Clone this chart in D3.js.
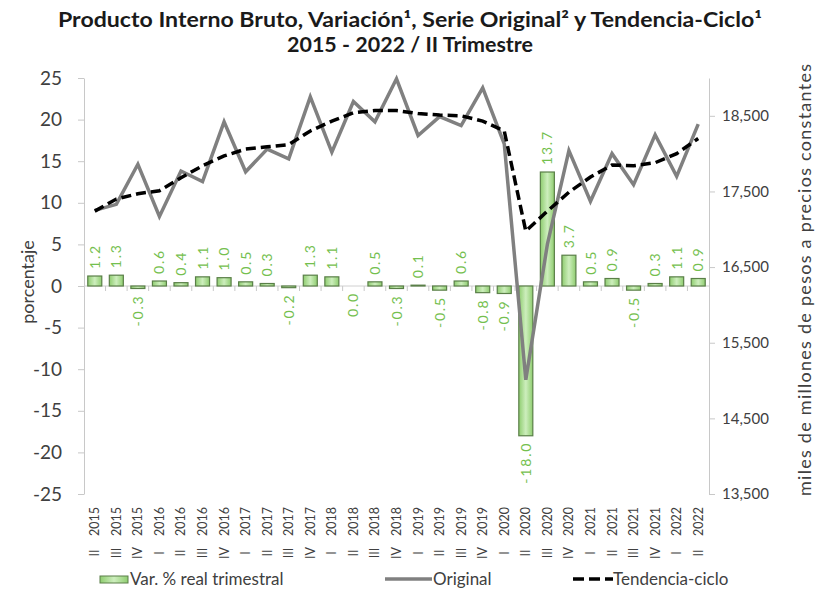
<!DOCTYPE html>
<html>
<head>
<meta charset="utf-8">
<script src="https://cdn.jsdelivr.net/npm/d3@7"></script>
<style>
  body { margin: 0; background: #fff; }
  svg { display: block; }
  text { font-family: Lato, "DejaVu Sans", sans-serif; }
</style>
</head>
<body>
<svg id="chart" width="819" height="594"></svg>
<script>
// quarters shown on the x axis
const periods = [
    "II 2015", "III 2015", "IV 2015",
    "I 2016", "II 2016", "III 2016", "IV 2016",
    "I 2017", "II 2017", "III 2017", "IV 2017",
    "I 2018", "II 2018", "III 2018", "IV 2018",
    "I 2019", "II 2019", "III 2019", "IV 2019",
    "I 2020", "II 2020", "III 2020", "IV 2020",
    "I 2021", "II 2021", "III 2021", "IV 2021",
    "I 2022", "II 2022"
];

// Var. % real trimestral (left axis, percent)
const varPct = [
    1.2, 1.3, -0.3,
    0.6, 0.4, 1.1, 1.0,
    0.5, 0.3, -0.2, 1.3,
    1.1, 0.0, 0.5, -0.3,
    0.1, -0.5, 0.6, -0.8,
    -0.9, -18.0, 13.7, 3.7,
    0.5, 0.9, -0.5, 0.3,
    1.1, 0.9
];

// Serie original (right axis, miles de millones de pesos)
const original = [
    17250, 17330, 17860,
    17170, 17770, 17630, 18420,
    17760, 18060, 17930, 18750,
    18020, 18690, 18420, 18990,
    18240, 18490, 18370, 18870,
    18130, 15010, 16800, 18040,
    17370, 18000, 17590, 18250,
    17700, 18390
];

// Tendencia-ciclo (right axis)
const trend = [
    17240, 17400, 17470,
    17510, 17680, 17840, 17970,
    18060, 18090, 18120, 18300,
    18430, 18540, 18570, 18570,
    18530, 18510, 18500, 18430,
    18300, 16975, 17240, 17490,
    17690, 17850, 17840, 17880,
    18000, 18200
];

const leftTicks = [25, 20, 15, 10, 5, 0, -5, -10, -15, -20, -25];
const rightTicks = [13500, 14500, 15500, 16500, 17500, 18500];

const svg = d3.select("#chart");
const plotLeft = 84, plotRight = 709, plotTop = 78, plotBottom = 494;
const labelColor = "#74c04e";
const textColor = "#404040";

const x = d3.scaleBand().domain(periods).range([plotLeft, plotRight]);
const bw = x.bandwidth();
const barW = bw * 0.65;
const yL = d3.scaleLinear().domain([-25, 25]).range([plotBottom, plotTop]);
const yR = d3.scaleLinear().domain([13500, 19000]).range([plotBottom, plotTop]);
const cx = p => x(p) + bw / 2;

// gradient for the bars
const grad = svg.append("defs").append("linearGradient")
    .attr("id", "barGrad")
    .attr("x1", "0%").attr("x2", "100%").attr("y1", "0%").attr("y2", "0%");
grad.append("stop").attr("offset", "0%").attr("stop-color", "#8fcd70");
grad.append("stop").attr("offset", "50%").attr("stop-color", "#cdeebd");
grad.append("stop").attr("offset", "100%").attr("stop-color", "#8fcd70");

// title
const title = svg.append("g").attr("font-weight", "bold").attr("fill", "#1a1a1a")
    .attr("text-anchor", "middle").attr("font-size", 20);
title.append("text").attr("x", 410).attr("y", 27)
    .attr("textLength", 704).attr("lengthAdjust", "spacingAndGlyphs")
    .text("Producto Interno Bruto, Variación¹, Serie Original² y Tendencia-Ciclo¹");
title.append("text").attr("x", 410).attr("y", 52)
    .attr("textLength", 246).attr("lengthAdjust", "spacingAndGlyphs")
    .text("2015 - 2022 / II Trimestre");

// left axis
const axL = svg.append("g")
    .attr("transform", `translate(${plotLeft},0)`)
    .call(d3.axisLeft(yL).tickValues(leftTicks).tickFormat(d => String(d))
        .tickSize(6).tickSizeOuter(0).tickPadding(16));
axL.select(".domain").attr("stroke", "#c8c8c8");
axL.selectAll(".tick line").attr("stroke", "#c8c8c8");
axL.selectAll(".tick text").attr("font-size", 19).attr("fill", textColor)
    .attr("font-family", "Lato, sans-serif");

// right axis
const axR = svg.append("g")
    .attr("transform", `translate(${plotRight},0)`)
    .call(d3.axisRight(yR).tickValues(rightTicks).tickFormat(d3.format(","))
        .tickSize(6).tickSizeOuter(0).tickPadding(7));
axR.select(".domain").attr("stroke", "#c8c8c8");
axR.selectAll(".tick line").attr("stroke", "#c8c8c8");
axR.selectAll(".tick text").attr("font-size", 15).attr("fill", textColor)
    .attr("font-family", "Lato, sans-serif");

// axis titles
svg.append("text")
    .attr("transform", `translate(34,${(plotTop + plotBottom) / 2 - 4}) rotate(-90)`)
    .attr("text-anchor", "middle").attr("font-size", 18).attr("fill", textColor)
    .text("porcentaje");
svg.append("text")
    .attr("transform", `translate(811,${(plotTop + plotBottom) / 2 - 6}) rotate(-90)`)
    .attr("text-anchor", "middle").attr("font-size", 18).attr("fill", textColor)
    .attr("textLength", 432).attr("lengthAdjust", "spacing")
    .text("miles de millones de pesos a precios constantes");

// zero line with category ticks
const y0 = yL(0);
svg.append("line")
    .attr("x1", plotLeft).attr("x2", plotRight).attr("y1", y0).attr("y2", y0)
    .attr("stroke", "#d0d0d0");
svg.append("g").selectAll("line")
    .data(periods.slice(1))
    .join("line")
    .attr("x1", d => x(d)).attr("x2", d => x(d))
    .attr("y1", y0).attr("y2", y0 + 5)
    .attr("stroke", "#c8c8c8");

// bars
svg.append("g").selectAll("rect")
    .data(periods)
    .join("rect")
    .attr("x", d => x(d) + (bw - barW) / 2)
    .attr("width", barW)
    .attr("y", (d, i) => Math.min(yL(varPct[i]), y0))
    .attr("height", (d, i) => Math.abs(yL(varPct[i]) - y0))
    .attr("fill", "url(#barGrad)")
    .attr("stroke", "#5a7f48")
    .attr("stroke-width", 1.2);

// original series
svg.append("path")
    .datum(periods)
    .attr("fill", "none")
    .attr("stroke", "#808080")
    .attr("stroke-width", 3.5)
    .attr("d", d3.line().x(d => cx(d)).y((d, i) => yR(original[i])));

// trend-cycle
svg.append("path")
    .datum(periods)
    .attr("fill", "none")
    .attr("stroke", "#000")
    .attr("stroke-width", 3.5)
    .attr("stroke-dasharray", "10,5")
    .attr("d", d3.line().x(d => cx(d)).y((d, i) => yR(trend[i])));

// bar value labels, rotated
svg.append("g").selectAll("text")
    .data(periods)
    .join("text")
    .attr("transform", (d, i) => {
        const v = varPct[i];
        const ty = v > 0 ? yL(v) - 7 : yL(Math.min(v, 0)) + 6;
        return `translate(${cx(d)},${ty}) rotate(-90)`;
    })
    .attr("dy", "0.36em")
    .attr("text-anchor", (d, i) => varPct[i] > 0 ? "start" : "end")
    .attr("font-size", 14)
    .attr("letter-spacing", 1.8)
    .attr("fill", labelColor)
    .text((d, i) => varPct[i].toFixed(1));

// x labels: year on top, quarter below
const xl = svg.append("g").attr("font-size", 12.5).attr("fill", textColor);
xl.selectAll("text.year")
    .data(periods)
    .join("text")
    .attr("class", "year")
    .attr("transform", d => `translate(${cx(d)},507) rotate(-90)`)
    .attr("dy", "0.36em")
    .attr("text-anchor", "end")
    .text(d => d.split(" ")[1]);
xl.selectAll("text.q")
    .data(periods)
    .join("text")
    .attr("class", "q")
    .attr("transform", d => `translate(${cx(d)},553) rotate(-90)`)
    .attr("dy", "0.36em")
    .attr("text-anchor", "middle")
    .text(d => d.split(" ")[0]);

// legend
const ly = 585;
const leg = svg.append("g").attr("font-size", 17).attr("fill", textColor);
leg.append("rect").attr("x", 100).attr("y", ly - 9).attr("width", 28).attr("height", 7)
    .attr("fill", "url(#barGrad)").attr("stroke", "#5a7f48");
leg.append("text").attr("x", 130).attr("y", ly).text("Var. % real trimestral");
leg.append("line").attr("x1", 385).attr("x2", 432).attr("y1", ly - 6).attr("y2", ly - 6)
    .attr("stroke", "#808080").attr("stroke-width", 3.5);
leg.append("text").attr("x", 433).attr("y", ly).text("Original");
leg.append("line").attr("x1", 573).attr("x2", 613).attr("y1", ly - 6).attr("y2", ly - 6)
    .attr("stroke", "#000").attr("stroke-width", 3.5).attr("stroke-dasharray", "11,5");
leg.append("text").attr("x", 613).attr("y", ly).text("Tendencia-ciclo");
</script>
</body>
</html>
